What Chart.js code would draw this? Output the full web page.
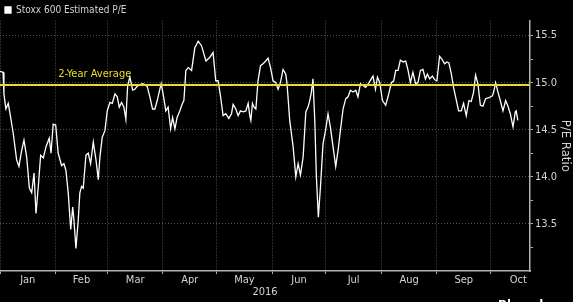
<!DOCTYPE html>
<html>
<head>
<meta charset="utf-8">
<script src="https://cdn.jsdelivr.net/npm/chart.js@4"></script>
<style>
  html, body { margin: 0; padding: 0; background: #000; }
  #wrap { width: 573px; height: 302px; position: relative; }
</style>
</head>
<body>
<div id="wrap"><canvas id="peChart"></canvas></div>
<script>
// Stoxx 600 推定PER (2016)
// x は 2016/1/1 からの経過日数
const dayOfYear = [
  0, 1.7, 2.2, 3.3, 4.6, 5.6, 7.4, 9.3, 10.6, 12.1, 13.4, 14.9, 16.4, 17.7, 19.0, 20.1,
  21.4, 22.7, 24.2, 25.7, 27.5, 28.5, 29.7, 31.1, 32.5, 34.4, 35.7, 36.8, 38.1, 39.5,
  40.6, 41.3, 42.4, 43.7, 44.6, 45.6, 46.5, 48.0, 49.3, 50.6, 52.1, 53.6, 54.9, 55.8,
  57.1, 58.6, 59.9, 61.4, 62.7, 64.2, 65.5, 66.6, 67.9, 69.2, 70.3, 71.3, 72.5, 74.1,
  75.3, 76.6, 78.1, 79.6, 80.9, 82.2, 83.7, 85.2, 86.5, 87.8, 88.9, 90.0, 91.1, 92.6,
  93.9, 95.3, 96.4, 97.7, 98.9, 100.4, 101.7, 102.7, 103.8, 105.1, 107.0, 108.8, 110.7,
  112.6, 115.0, 117.2, 119.0, 120.5, 121.8, 123.2, 124.6, 126.1, 127.8, 129.3, 130.2,
  131.7, 133.0, 134.3, 135.8, 137.3, 138.6, 139.5, 140.1, 141.0, 141.9, 142.9, 144.1,
  145.5, 146.9, 148.4, 149.7, 151.1, 152.5, 154.0, 155.3, 156.6, 158.1, 159.6, 160.3,
  161.8, 163.7, 165.2, 166.5, 167.8, 169.3, 170.8, 172.0, 173.0, 173.9, 174.8, 175.8,
  176.7, 177.8, 179.0, 180.4, 181.8, 183.2, 184.5, 186.0, 187.5, 188.8, 190.1, 191.6,
  193.1, 194.4, 195.7, 197.2, 198.7, 199.9, 201.3, 202.7, 204.2, 206.1, 208.3, 209.7,
  210.8, 212.1, 213.6, 215.4, 216.7, 218.6, 219.9, 221.0, 222.3, 223.6, 225.1, 226.6,
  227.9, 229.2, 230.6, 232.1, 233.4, 234.8, 236.2, 237.6, 238.7, 240.0, 241.5, 242.8,
  244.0, 245.5, 246.8, 248.3, 249.6, 250.7, 252.1, 253.3, 254.9, 256.1, 257.6, 258.9,
  260.4, 261.9, 263.2, 264.5, 265.6, 266.9, 268.3, 269.7, 271.2, 273.1, 275.0, 275.7,
  276.8, 278.1, 279.4, 280.9, 282.4, 283.7, 285.0, 286.5, 287.8, 288.3, 289.2
];
const peRatio = [
  15.12, 15.11, 14.88, 14.72, 14.78, 14.67, 14.46, 14.18, 14.11, 14.28, 14.39, 14.21, 13.88, 13.83, 14.04, 13.61,
  13.90, 14.23, 14.20, 14.32, 14.41, 14.25, 14.56, 14.55, 14.25, 14.12, 14.14, 14.07, 13.83, 13.44,
  13.68, 13.54, 13.24, 13.54, 13.83, 13.90, 13.88, 14.23, 14.25, 14.14, 14.37, 14.18, 13.97, 14.21,
  14.42, 14.49, 14.70, 14.79, 14.78, 14.88, 14.85, 14.74, 14.79, 14.74, 14.61, 14.97, 15.06, 14.92,
  14.93, 14.96, 14.98, 14.99, 14.98, 14.96, 14.85, 14.72, 14.72, 14.81, 14.90, 14.99, 14.88, 14.70,
  14.74, 14.51, 14.63, 14.51, 14.63, 14.70, 14.77, 14.81, 15.13, 15.16, 15.13, 15.37, 15.44,
  15.39, 15.23, 15.27, 15.32, 15.02, 15.02, 14.85, 14.65, 14.67, 14.62, 14.67, 14.77,
  14.72, 14.65, 14.70, 14.69, 14.70, 14.78, 14.65, 14.60, 14.78, 14.74, 14.72, 15.02,
  15.18, 15.20, 15.23, 15.26, 15.16, 15.02, 15.00, 14.93, 15.00, 15.14, 15.09, 14.99,
  14.60, 14.32, 14.00, 14.14, 14.02, 14.21, 14.69, 14.74, 14.81, 14.90, 15.04, 14.60,
  14.00, 13.57, 13.90, 14.35, 14.49, 14.67, 14.53, 14.32, 14.11, 14.28, 14.49, 14.72,
  14.83, 14.85, 14.92, 14.90, 14.92, 14.85, 14.99, 14.97, 14.95, 15.00, 15.07, 14.93,
  15.06, 15.00, 14.81, 14.76, 14.85, 15.00, 15.02, 15.13, 15.13, 15.24, 15.22, 15.23,
  15.13, 15.00, 15.11, 14.99, 15.00, 15.13, 15.14, 15.04, 15.09, 15.04, 15.07, 15.03,
  15.02, 15.28, 15.25, 15.20, 15.22, 15.21, 15.09, 14.95, 14.81, 14.70, 14.70, 14.78,
  14.65, 14.81, 14.80, 14.90, 15.08, 14.99, 14.76, 14.75, 14.83, 14.84, 14.86, 14.90,
  15.00, 14.90, 14.81, 14.70, 14.81, 14.75, 14.67, 14.53, 14.69, 14.70, 14.60
];

// 2年平均
const twoYearAverage = 14.975;
const avgLabelDay = 32.5;

// 軸
const monthNames = ["Jan", "Feb", "Mar", "Apr", "May", "Jun", "Jul", "Aug", "Sep", "Oct"];
const monthStarts = [0, 31, 60, 91, 121, 152, 182, 213, 244, 274, 305];
const yTickValues = [13.5, 14.0, 14.5, 15.0, 15.5];
const yMinorValues = [13.25, 13.75, 14.25, 14.75, 15.25];
const xMin = 0, xMax = 296;
const yMin = 13.0, yMax = 15.66;

const narrowFont = "'Liberation Sans Narrow', 'DejaVu Sans Condensed', 'Liberation Sans', sans-serif";
const textColor = "#d4d4d4";
const gridColor = "#555555";
const axisColor = "#b0b0b0";
const avgColor = "#e8dc2c";

// x軸の目盛: 月初はグリッド、月の中央はラベル
let xTicks = [];
monthNames.forEach(function (name, i) {
  xTicks.push({ value: monthStarts[i], kind: "start" });
  xTicks.push({ value: (monthStarts[i] + monthStarts[i + 1]) / 2, kind: "mid", label: name });
});

let peData = dayOfYear.map(function (d, i) {
  return { x: d, y: peRatio[i] };
});

// 「2-Year Average」の文字と Bloomberg ロゴ
const avgLabelPlugin = {
  id: "avgLabel",
  afterDatasetsDraw(chart) {
    const ctx = chart.ctx;
    const xs = chart.scales.x;
    const ys = chart.scales.y;
    ctx.save();
    ctx.fillStyle = avgColor;
    ctx.font = "11px " + narrowFont;
    ctx.textBaseline = "bottom";
    ctx.textAlign = "left";
    ctx.fillText("2-Year Average", xs.getPixelForValue(avgLabelDay), ys.getPixelForValue(twoYearAverage) - 5);
    ctx.fillStyle = "#ffffff";
    ctx.font = "bold 13px " + narrowFont;
    ctx.textBaseline = "top";
    ctx.fillText("Bloomberg", 498, 299.5);
    ctx.restore();
  }
};

let canvas = document.getElementById("peChart");
new Chart(canvas, {
  type: "line",
  data: {
    datasets: [
      {
        label: "Stoxx 600 Estimated P/E",
        data: peData,
        borderColor: "#ffffff",
        backgroundColor: "#ffffff",
        borderWidth: 1.3,
        pointRadius: 0,
        tension: 0,
        order: 2
      },
      {
        label: "2-Year Average",
        data: [{ x: xMin, y: twoYearAverage }, { x: xMax, y: twoYearAverage }],
        borderColor: avgColor,
        borderWidth: 2,
        pointRadius: 0,
        order: 1
      }
    ]
  },
  options: {
    responsive: true,
    maintainAspectRatio: false,
    animation: false,
    layout: { padding: { left: 0, right: 0, top: 0, bottom: 0 } },
    plugins: {
      tooltip: { enabled: false },
      legend: {
        position: "top",
        align: "start",
        maxHeight: 20.5,
        labels: {
          color: textColor,
          font: { family: narrowFont, size: 10 },
          boxWidth: 6,
          boxHeight: 6,
          padding: 5,
          filter: function (item) { return item.datasetIndex === 0; }
        }
      }
    },
    scales: {
      x: {
        type: "linear",
        min: xMin,
        max: xMax,
        afterBuildTicks: function (scale) {
          scale.ticks = xTicks.map(function (t) { return { value: t.value }; });
        },
        afterFit: function (scale) { scale.height = 31; },
        ticks: {
          autoSkip: false,
          maxRotation: 0,
          padding: 0,
          color: textColor,
          font: { family: narrowFont, size: 11 },
          callback: function (value, index) {
            return xTicks[index].kind === "mid" ? xTicks[index].label : "";
          }
        },
        grid: {
          color: function (c) {
            return c.tick && xTicks[c.index] && xTicks[c.index].kind === "start" ? gridColor : "transparent";
          },
          tickColor: function (c) {
            return c.tick && xTicks[c.index] && xTicks[c.index].kind === "start" ? axisColor : "transparent";
          },
          tickLength: 3,
          lineWidth: 1
        },
        border: { display: true, color: axisColor, width: 1.5, dash: [1, 2] },
        title: {
          display: true,
          text: "2016",
          color: textColor,
          font: { family: narrowFont, size: 11 },
          padding: { top: 0, bottom: 3 }
        }
      },
      y: {
        position: "right",
        min: yMin,
        max: yMax,
        afterBuildTicks: function (scale) {
          let t = [];
          yTickValues.forEach(function (v) { t.push({ value: v }); });
          yMinorValues.forEach(function (v) { t.push({ value: v }); });
          t.sort(function (a, b) { return a.value - b.value; });
          scale.ticks = t;
        },
        afterFit: function (scale) { scale.width = 43; },
        ticks: {
          padding: 2,
          color: textColor,
          font: { family: narrowFont, size: 11 },
          callback: function (value) {
            return yTickValues.indexOf(value) >= 0 ? value.toFixed(1) : "";
          }
        },
        grid: {
          color: function (c) {
            return c.tick && yTickValues.indexOf(c.tick.value) >= 0 ? gridColor : "transparent";
          },
          tickColor: axisColor,
          tickLength: 3
        },
        border: { display: true, color: axisColor, width: 1.5, dash: [1, 2] },
        title: {
          display: true,
          text: "P/E Ratio",
          color: textColor,
          font: { family: narrowFont, size: 13 },
          padding: { top: 0, bottom: 2 }
        }
      }
    }
  },
  plugins: [avgLabelPlugin]
});
</script>
</body>
</html>
